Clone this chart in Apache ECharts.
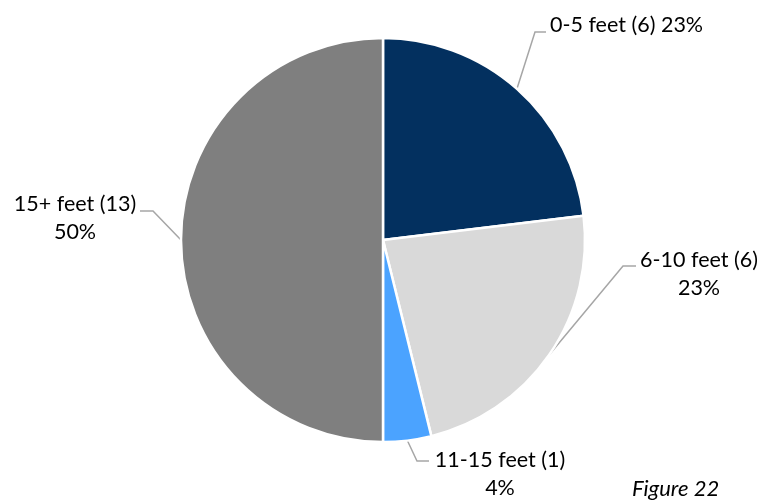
<!DOCTYPE html>
<html>
<head>
<meta charset="utf-8">
<script src="https://cdn.jsdelivr.net/npm/echarts@6/dist/echarts.min.js"></script>
<style>
  html, body { margin: 0; padding: 0; background: #fff; }
  #chart { width: 767px; height: 500px; }
</style>
</head>
<body>
<div id="chart"></div>
<script>
// Distance bands and number of cases in each
const categories = ['0-5 feet', '6-10 feet', '11-15 feet', '15+ feet'];
const counts = [6, 6, 1, 13];
const sliceColors = ['#03305f', '#d9d9d9', '#4ba3ff', '#7f7f7f'];
// Separator between the name part and the percentage in each label
const labelBreaks = [' ', '\n', '\n', '\n'];

// Where each label sits and how its leader line bends
const labelSpots = [
  { x: 550, y: 25,  align: 'left',   elbow: [535, 32],  end: [546, 32] },
  { x: 699, y: 274, align: 'center', elbow: [623, 266], end: [636, 266] },
  { x: 500, y: 474, align: 'center', elbow: [417, 461], end: [429, 461] },
  { x: 75,  y: 218, align: 'center', elbow: [153, 211], end: [140, 211] }
];

const FONT = 'Lato, "Open Sans", sans-serif';
const CENTER = [383, 240];
const RADIUS = 202;

const chart = echarts.init(document.getElementById('chart'), null, { renderer: 'canvas' });

const seriesData = categories.map((name, i) => ({
  name: name,
  value: counts[i],
  itemStyle: { color: sliceColors[i] }
}));

chart.setOption({
  animation: false,
  backgroundColor: '#ffffff',
  title: {
    text: 'Figure 22',
    left: 627,
    top: 473,
    textStyle: { fontFamily: FONT, fontSize: 22, fontStyle: 'italic', fontWeight: 'normal', color: '#000' }
  },
  series: [{
    type: 'pie',
    center: CENTER,
    radius: RADIUS,
    startAngle: 90,
    clockwise: true,
    data: seriesData,
    itemStyle: { borderColor: '#ffffff', borderWidth: 2.5 },
    label: {
      show: true,
      position: 'outside',
      fontFamily: FONT,
      fontSize: 21.5,
      lineHeight: 28,
      color: '#000',
      formatter: p => p.name + ' (' + p.value + ')' + labelBreaks[p.dataIndex] + Math.round(p.percent) + '%'
    },
    labelLine: {
      show: true,
      smooth: false,
      length: 10,
      length2: 10,
      lineStyle: { color: '#a6a6a6', width: 1.5 }
    },
    labelLayout: function (params) {
      const spot = labelSpots[params.dataIndex];
      let start;
      if (params.labelLinePoints && params.labelLinePoints[0]) {
        start = params.labelLinePoints[0];
      } else {
        // fall back to the slice's outer edge at its mid angle
        const total = counts.reduce((a, b) => a + b, 0);
        let before = 0;
        for (let k = 0; k < params.dataIndex; k++) before += counts[k];
        const mid = (before + counts[params.dataIndex] / 2) / total * Math.PI * 2;
        start = [CENTER[0] + RADIUS * Math.sin(mid), CENTER[1] - RADIUS * Math.cos(mid)];
      }
      return {
        x: spot.x,
        y: spot.y,
        align: spot.align,
        verticalAlign: 'middle',
        labelLinePoints: [start, spot.elbow, spot.end]
      };
    }
  }]
});
</script>
</body>
</html>
